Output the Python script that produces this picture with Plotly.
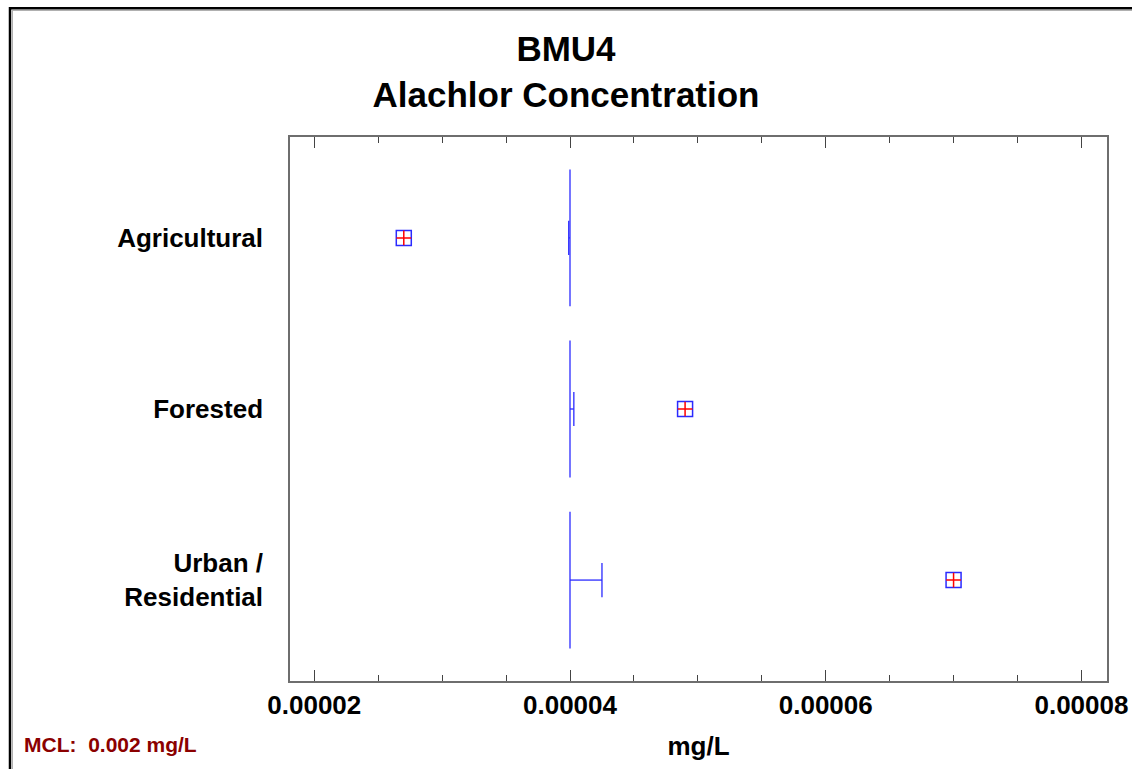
import plotly.graph_objects as go

# Land-use groups and summary values (mg/L)
categories = ["Agricultural", "Forested", "Urban /<br>Residential"]
median_vals = [0.00004, 0.00004, 0.00004]
whisker_vals = [0.0000399, 0.0000403, 0.0000425]
outlier_vals = [0.000027, 0.000049, 0.00007]
x_tick_vals = [0.00002, 0.00004, 0.00006, 0.00008]
x_tick_text = ["0.00002", "0.00004", "0.00006", "0.00008"]

BLUE = "#2a2aff"
FONT = "Liberation Sans, Arial, sans-serif"

fig = go.Figure()

for i, cat in enumerate(categories):
    med = median_vals[i]
    wk = whisker_vals[i]
    # long median line across the group band
    fig.add_trace(go.Scatter(
        x=[med, med], y=[i - 0.4, i + 0.4], mode="lines",
        line=dict(color=BLUE, width=1.3), hoverinfo="skip", showlegend=False))
    # whisker from the median with an end cap
    fig.add_trace(go.Scatter(
        x=[med, wk, None, wk, wk], y=[i, i, None, i - 0.1, i + 0.1], mode="lines",
        line=dict(color=BLUE, width=1.3), hoverinfo="skip", showlegend=False))

# outlying values: blue square with red cross
y_idx = list(range(len(categories)))
fig.add_trace(go.Scatter(
    x=outlier_vals, y=y_idx, mode="markers",
    marker=dict(symbol="square-open", size=15, color=BLUE, line=dict(width=1.5, color=BLUE)),
    showlegend=False))
fig.add_trace(go.Scatter(
    x=outlier_vals, y=y_idx, mode="markers",
    marker=dict(symbol="cross-thin-open", size=10.5, color="red", line=dict(width=1.5, color="red")),
    showlegend=False))

AXIS_COLOR = "#6e6e6e"

fig.update_xaxes(
    range=[0.0000181, 0.0000820],
    tickvals=x_tick_vals, ticktext=x_tick_text,
    ticks="inside", ticklen=11, tickwidth=1, tickcolor="#444444",
    minor=dict(dtick=0.000005, tick0=0.00002, ticks="inside", ticklen=6, tickwidth=1, tickcolor="#444444"),
    showline=True, linecolor=AXIS_COLOR, linewidth=1.5, mirror="allticks",
    showgrid=False, zeroline=False, automargin=False,
    tickfont=dict(family=FONT, size=26, color="black", weight="bold"),
    title=dict(text="<b>mg/L</b>", font=dict(family=FONT, size=26, color="black"), standoff=18),
)
fig.update_yaxes(
    range=[2.59, -0.59],
    tickvals=y_idx, ticktext=categories,
    ticks="", showline=True, linecolor=AXIS_COLOR, linewidth=1.5, mirror=True,
    showgrid=False, zeroline=False, automargin=False,
    tickfont=dict(family=FONT, size=26, color="black", weight="bold"),
    ticklabelstandoff=20,
)

# plot-area geometry in pixels, used for the outer frame
L, R, T, B = 290, 25, 137, 88
W, H = 1132, 769
pw, ph = W - L - R, H - T - B


def px_x(x):
    return (x - L) / pw


def px_y(y):
    return (H - B - y) / ph


shapes = [
    dict(type="line", xref="paper", yref="paper", x0=px_x(9), x1=px_x(1132), y0=px_y(8.3), y1=px_y(8.3),
         line=dict(color="black", width=2.5)),
    dict(type="line", xref="paper", yref="paper", x0=px_x(10), x1=px_x(10), y0=px_y(7), y1=px_y(769),
         line=dict(color="black", width=2.5)),
    dict(type="line", xref="paper", yref="paper", x0=px_x(12), x1=px_x(1132), y0=px_y(10.5), y1=px_y(10.5),
         line=dict(color="#b0b0b0", width=1)),
    dict(type="line", xref="paper", yref="paper", x0=px_x(12.5), x1=px_x(12.5), y0=px_y(10.5), y1=px_y(769),
         line=dict(color="#b0b0b0", width=1)),
]

fig.update_layout(
    width=W, height=H,
    margin=dict(l=L, r=R, t=T, b=B, autoexpand=False),
    paper_bgcolor="white", plot_bgcolor="white",
    title=dict(text="<b>BMU4<br>Alachlor Concentration</b>", x=0.5, xanchor="center",
               y=1 - 61 / H, yanchor="middle",
               font=dict(family=FONT, size=35, color="black")),
    shapes=shapes,
    annotations=[dict(text="<b>MCL:\u00a0\u00a00.002 mg/L</b>", xref="paper", yref="paper",
                      x=px_x(22), y=px_y(744), xanchor="left", yanchor="middle", showarrow=False,
                      font=dict(family=FONT, size=21, color="#8b0000"))],
    showlegend=False,
)

fig.write_html("out.html")
